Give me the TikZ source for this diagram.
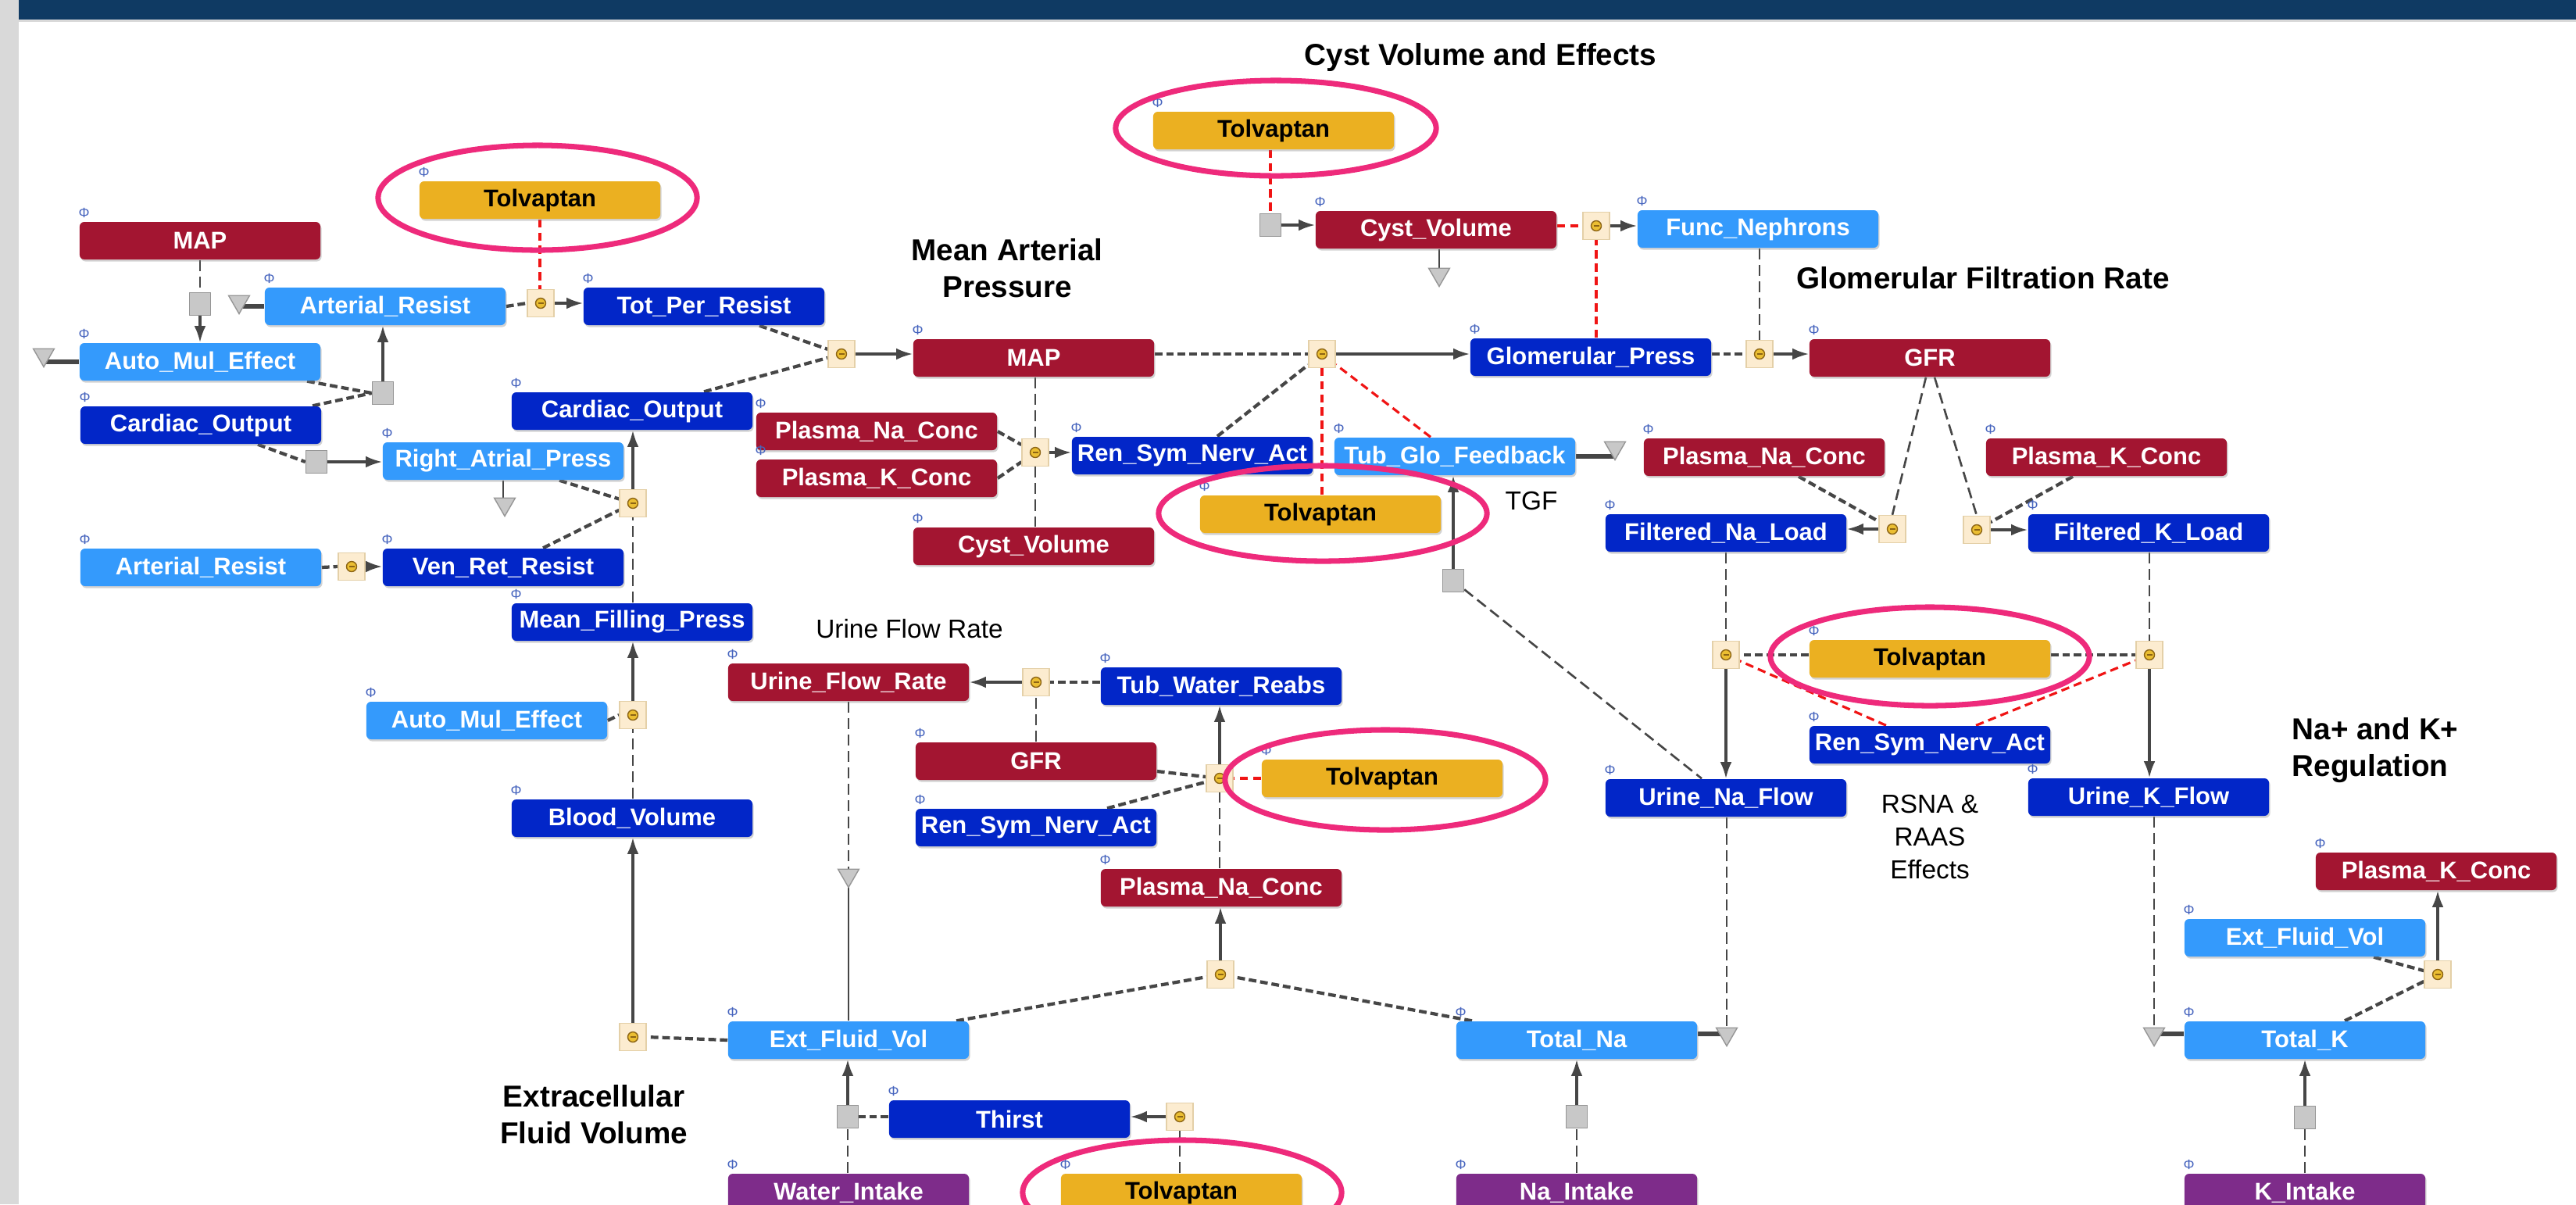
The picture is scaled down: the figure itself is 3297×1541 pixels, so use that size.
\documentclass[tikz,border=0pt]{standalone}
\usepackage{fontspec}
\setmainfont{Liberation Sans}
\usetikzlibrary{arrows.meta,shapes.geometric,shadows,calc}
\definecolor{cred}{RGB}{163,21,49}
\definecolor{clblue}{RGB}{52,154,252}
\definecolor{cdblue}{RGB}{2,38,200}
\definecolor{cgold}{RGB}{235,176,33}
\definecolor{cpurple}{RGB}{126,44,138}
\definecolor{cpink}{RGB}{238,42,123}
\definecolor{ctop}{RGB}{15,58,99}
\definecolor{cedge}{RGB}{70,70,70}
\definecolor{cmodfill}{RGB}{252,236,208}
\definecolor{cmoddraw}{RGB}{228,208,168}
\definecolor{cdot}{RGB}{235,190,50}
\definecolor{cdotd}{RGB}{140,100,20}
\definecolor{cicon}{RGB}{70,100,190}
\definecolor{cgray}{RGB}{200,200,200}
\definecolor{cgrayd}{RGB}{150,150,150}
\definecolor{cleft}{RGB}{217,217,217}
\definecolor{cdashred}{RGB}{240,20,20}
\pgfdeclarelayer{back}
\pgfdeclarelayer{edges}
\pgfsetlayers{back,edges,main}
\tikzset{
 box/.style={rectangle, rounded corners=0.06cm, minimum width=3.08cm, minimum height=0.48cm, inner sep=0pt, text=white, font=\fontsize{8.8}{10}\selectfont\bfseries, drop shadow={shadow xshift=0.015cm, shadow yshift=-0.025cm, opacity=0.35}},
 rd/.style={box, fill=cred},
 lb/.style={box, fill=clblue},
 db/.style={box, fill=cdblue},
 gd/.style={box, fill=cgold, text=black},
 pu/.style={box, fill=cpurple},
 icon/.style={text=cicon, font=\fontsize{5}{5}\selectfont, inner sep=0pt},
 modf/.style={rectangle, fill=cmodfill, draw=cmoddraw, line width=0.4pt, minimum width=0.34cm, minimum height=0.35cm, inner sep=0pt,
   path picture={\draw[fill=cdot, draw=cdotd, line width=0.4pt] (path picture bounding box.center) circle (0.065cm);
   \draw[cdotd, line width=0.4pt] ([xshift=-0.035cm]path picture bounding box.center) -- ([xshift=0.035cm]path picture bounding box.center);}},
 proc/.style={rectangle, fill=cgray, draw=cgrayd, line width=0.4pt, minimum width=0.27cm, minimum height=0.29cm, inner sep=0pt},
 sink/.style={regular polygon, regular polygon sides=3, shape border rotate=180, fill=cgray, draw=cgrayd, line width=0.4pt, minimum size=0.31cm, inner sep=0pt},
 arr/.style={draw=cedge, line width=0.9pt, -{Latex[length=6pt,width=4.2pt]}},
 infl/.style={draw=cedge, line width=1.2pt, dash pattern=on 2.8pt off 1.4pt},
 tdash/.style={draw=cedge, line width=0.75pt, dash pattern=on 4pt off 2pt},
 rdash/.style={draw=cdashred, line width=0.9pt, dash pattern=on 3pt off 1.8pt},
 flowk/.style={draw=cedge, line width=1.6pt},
 flown/.style={draw=cedge, line width=0.8pt},
 ring/.style={draw=cpink, line width=2pt},
 hdr/.style={font=\fontsize{11}{13.5}\selectfont\bfseries, align=center, inner sep=0pt},
 lbl/.style={font=\fontsize{9.5}{12}\selectfont, align=center, inner sep=0pt},
}
\newcommand{\mkbox}[5]{\node[#4] (#1) at (#2,#3) {#5};\node[icon] (#1i) at ([xshift=0.065cm,yshift=0.11cm]#1.north west) {Φ};}
\begin{document}
\begin{tikzpicture}[x={(0.01cm,0)}, y={(0,-0.01cm)}]
\useasboundingbox (0,0) rectangle (3297,1541);
\begin{pgfonlayer}{back}
\fill[white] (0,0) rectangle (3297,1541);
\fill[cleft] (0,0) rectangle (24,1541);
\fill[ctop] (24,0) rectangle (3297,25);
\fill[cleft] (24,25) rectangle (3297,28);
\end{pgfonlayer}
% boxes
\mkbox{mapL}{256}{308}{rd}{MAP}
\mkbox{arL}{493}{392}{lb}{Arterial\_Resist}
\mkbox{tpr}{901}{392}{db}{Tot\_Per\_Resist}
\mkbox{amL}{256}{463}{lb}{Auto\_Mul\_Effect}
\mkbox{coL}{257}{544}{db}{Cardiac\_Output}
\mkbox{coM}{809}{526}{db}{Cardiac\_Output}
\mkbox{rap}{644}{590}{lb}{Right\_Atrial\_Press}
\mkbox{arL2}{257}{726}{lb}{Arterial\_Resist}
\mkbox{vrr}{644}{726}{db}{Ven\_Ret\_Resist}
\mkbox{mfp}{809}{796}{db}{Mean\_Filling\_Press}
\mkbox{amL2}{623}{922}{lb}{Auto\_Mul\_Effect}
\mkbox{bv}{809}{1047}{db}{Blood\_Volume}
\mkbox{tol1}{691}{256}{gd}{Tolvaptan}
\mkbox{tol2}{1630}{167}{gd}{Tolvaptan}
\mkbox{cyst1}{1838}{294}{rd}{Cyst\_Volume}
\mkbox{fn}{2250}{293}{lb}{Func\_Nephrons}
\mkbox{mapM}{1323}{458}{rd}{MAP}
\mkbox{gp}{2036}{457}{db}{Glomerular\_Press}
\mkbox{gfr}{2470}{458}{rd}{GFR}
\mkbox{pnaM}{1122}{552}{rd}{Plasma\_Na\_Conc}
\mkbox{pkM}{1122}{612}{rd}{Plasma\_K\_Conc}
\mkbox{rsnaM}{1526}{583}{db}{Ren\_Sym\_Nerv\_Act}
\mkbox{tgf}{1862}{584}{lb}{Tub\_Glo\_Feedback}
\mkbox{cyst2}{1323}{699}{rd}{Cyst\_Volume}
\mkbox{tol3}{1690}{658}{gd}{Tolvaptan}
\mkbox{pnaR}{2258}{585}{rd}{Plasma\_Na\_Conc}
\mkbox{pkR}{2696}{585}{rd}{Plasma\_K\_Conc}
\mkbox{fna}{2209}{682}{db}{Filtered\_Na\_Load}
\mkbox{fk}{2750}{682}{db}{Filtered\_K\_Load}
\mkbox{tol6}{2470}{843}{gd}{Tolvaptan}
\mkbox{rsnaR}{2470}{953}{db}{Ren\_Sym\_Nerv\_Act}
\mkbox{una}{2209}{1021}{db}{Urine\_Na\_Flow}
\mkbox{uk}{2750}{1020}{db}{Urine\_K\_Flow}
\mkbox{ufr}{1086}{873}{rd}{Urine\_Flow\_Rate}
\mkbox{twr}{1563}{878}{db}{Tub\_Water\_Reabs}
\mkbox{gfr2}{1326}{974}{rd}{GFR}
\mkbox{tol4}{1769}{996}{gd}{Tolvaptan}
\mkbox{rsnaL}{1326}{1059}{db}{Ren\_Sym\_Nerv\_Act}
\mkbox{pnaL}{1563}{1136}{rd}{Plasma\_Na\_Conc}
\mkbox{efv}{1086}{1331}{lb}{Ext\_Fluid\_Vol}
\mkbox{tna}{2018}{1331}{lb}{Total\_Na}
\mkbox{thirst}{1292}{1432}{db}{Thirst}
\mkbox{wi}{1086}{1526}{pu}{Water\_Intake}
\mkbox{tol5}{1512}{1526}{gd}{Tolvaptan}
\mkbox{nai}{2018}{1526}{pu}{Na\_Intake}
\mkbox{pkR2}{3118}{1115}{rd}{Plasma\_K\_Conc}
\mkbox{efvR}{2950}{1200}{lb}{Ext\_Fluid\_Vol}
\mkbox{tk}{2950}{1331}{lb}{Total\_K}
\mkbox{ki}{2950}{1526}{pu}{K\_Intake}
% modifiers
\node[modf] (m1) at (692,388) {};
\node[modf] (m2) at (1077,453) {};
\node[modf] (m3) at (810,644) {};
\node[modf] (m4) at (450,725) {};
\node[modf] (m5) at (810,915) {};
\node[modf] (m6) at (810,1327) {};
\node[modf] (m7) at (1692,453) {};
\node[modf] (m8) at (1325,579) {};
\node[modf] (m9) at (2043,289) {};
\node[modf] (m10) at (2252,453) {};
\node[modf] (m11) at (2422,677) {};
\node[modf] (m12) at (2530,678) {};
\node[modf] (m13) at (2209,838) {};
\node[modf] (m14) at (2751,838) {};
\node[modf] (m15) at (1326,873) {};
\node[modf] (m16) at (1561,996) {};
\node[modf] (m17) at (1562,1247) {};
\node[modf] (m18) at (1510,1429) {};
\node[modf] (m19) at (3120,1247) {};
% process squares
\node[proc] (s1) at (256,389) {};
\node[proc] (s2) at (490,503) {};
\node[proc] (s3) at (405,591) {};
\node[proc] (s4) at (1626,288) {};
\node[proc] (s5) at (1860,743) {};
\node[proc] (s6) at (1085,1429) {};
\node[proc] (s7) at (2018,1429) {};
\node[proc] (s8) at (2950,1430) {};
% sinks
\node[sink] (t1) at (306,386) {};
\node[sink] (t2) at (56,454) {};
\node[sink] (t3) at (646,645) {};
\node[sink] (t4) at (1842,351) {};
\node[sink] (t5) at (2067,573) {};
\node[sink] (t6) at (1086,1120) {};
\node[sink] (t7) at (2210,1323) {};
\node[sink] (t8) at (2757,1323) {};
% labels
\node[hdr] (hcyst) at (1895,73) {Cyst Volume and Effects};
\node[hdr] (hmap) at (1289,343) {Mean Arterial\\Pressure};
\node[hdr] (hgfr) at (2538,356) {Glomerular Filtration Rate};
\node[hdr] (hecf) at (760,1426) {Extracellular\\Fluid Volume};
\node[hdr, align=left, anchor=west] (hnak) at (2933,960) {Na+ and K+\\Regulation};
\node[lbl] (ltgf) at (1960,641) {TGF};
\node[lbl] (lufr) at (1164,805) {Urine Flow Rate};
\node[lbl] (lrsna) at (2470,1071) {RSNA \&\\RAAS\\Effects};
% edges
\begin{pgfonlayer}{edges}
\draw[tdash] (mapL.south) -- (s1.north);
\draw[arr] (s1.south) -- (amL.north);
\draw[flowk] (arL.west) -- (arL.west -| t1.center);
\draw[flowk] (amL.west) -- (amL.west -| t2.center);
\draw[infl] ([xshift=1.37cm]amL.south) -- (s2.west);
\draw[infl] ([xshift=1.43cm]coL.north) -- (s2.west);
\draw[arr] (s2.north) -- (s2.north |- arL.south);
\draw[infl] (arL.east) -- (m1.west);
\draw[arr] (m1.east) -- (m1.east -| tpr.west);
\draw[rdash] (tol1.south) -- (tol1.south |- m1.north);
\draw[infl] ([xshift=0.71cm]tpr.south) -- (m2);
\draw[infl] ([xshift=0.92cm]coM.north) -- (m2);
\draw[arr] (m2.east) -- (m2.east -| mapM.west);
\draw[infl] ([xshift=0.73cm]coL.south) -- (s3.west);
\draw[arr] (s3.east) -- (s3.east -| rap.west);
\draw[flown] (rap.south) -- (rap.south |- t3.center);
\draw[infl] ([xshift=0.72cm]rap.south) -- (m3);
\draw[infl] ([xshift=0.51cm]vrr.north) -- (m3);
\draw[arr] (m3.north) -- (m3.north |- coM.south);
\draw[tdash] (mfp.north -| m3.south) -- (m3.south);
\draw[infl] (arL2.east) -- (m4.west);
\draw[arr] (m4.east) -- (m4.east -| vrr.west);
\draw[arr] (m5.north) -- (m5.north |- mfp.south);
\draw[infl] (amL2.east) -- (m5.west);
\draw[tdash] (bv.north -| m5.south) -- (m5.south);
\draw[arr] (m6.north) -- (m6.north |- bv.south);
\draw[infl] (efv.west) -- (m6.east);
\draw[infl] (mapM.east |- m7.west) -- (m7.west);
\draw[arr] (m7.east) -- (m7.east -| gp.west);
\draw[infl] ([xshift=0.32cm]rsnaM.north) -- (m7);
\draw[rdash] (tol3.north -| m7.south) -- (m7.south);
\draw[rdash] ([xshift=-0.31cm]tgf.north) -- (m7);
\draw[arr] (s5.north) -- (s5.north |- tgf.south);
\draw[tdash] (s5) -- ([xshift=-0.31cm]una.north);
\draw[flowk] (tgf.east) -- (tgf.east -| t5.center);
\draw[infl] (pnaM.east) -- (m8);
\draw[infl] (pkM.east) -- (m8);
\draw[arr] (m8.east) -- (m8.east -| rsnaM.west);
\draw[tdash] (mapM.south -| m8.north) -- (m8.north);
\draw[tdash] (m8.south) -- (m8.south |- cyst2.north);
\draw[rdash] (tol2.south -| s4.north) -- (s4.north);
\draw[arr] (s4.east) -- (s4.east -| cyst1.west);
\draw[flown] (cyst1.south -| t4.center) -- (t4.center);
\draw[rdash] (cyst1.east |- m9.west) -- (m9.west);
\draw[arr] (m9.east) -- (m9.east -| fn.west);
\draw[rdash] (gp.north -| m9.south) -- (m9.south);
\draw[infl] (gp.east |- m10.west) -- (m10.west);
\draw[arr] (m10.east) -- (m10.east -| gfr.west);
\draw[tdash] (fn.south -| m10.north) -- (m10.north);
\draw[tdash] ([xshift=-0.05cm]gfr.south) -- (m11.north);
\draw[tdash] ([xshift=0.06cm]gfr.south) -- (m12.north);
\draw[infl] ([xshift=0.44cm]pnaR.south) -- (m11);
\draw[infl] ([xshift=-0.43cm]pkR.south) -- (m12);
\draw[arr] (m11.west) -- (m11.west -| fna.east);
\draw[arr] (m12.east) -- (m12.east -| fk.west);
\draw[tdash] (fna.south -| m13.north) -- (m13.north);
\draw[arr] (m13.south) -- (m13.south |- una.north);
\draw[tdash] (fk.south -| m14.north) -- (m14.north);
\draw[arr] (m14.south) -- (m14.south |- uk.north);
\draw[infl] (tol6.west |- m13.east) -- (m13.east);
\draw[infl] (tol6.east |- m14.west) -- (m14.west);
\draw[rdash] ([xshift=-0.56cm]rsnaR.north) -- (m13);
\draw[rdash] ([xshift=0.59cm]rsnaR.north) -- (m14);
\draw[tdash] (una.south -| t7.center) -- (t7.center);
\draw[flowk] (tna.east |- t7.center) -- (t7.center);
\draw[tdash] (uk.south -| t8.center) -- (t8.center);
\draw[flowk] (tk.west |- t8.center) -- (t8.center);
\draw[infl] ([xshift=0.88cm]efvR.south) -- (m19);
\draw[infl] ([xshift=0.51cm]tk.north) -- (m19);
\draw[arr] (m19.north) -- (m19.north |- pkR2.south);
\draw[tdash] (ki.north) -- (s8.south);
\draw[arr] (s8.north) -- (tk.south);
\draw[infl] (twr.west |- m15.east) -- (m15.east);
\draw[arr] (m15.west) -- (m15.west -| ufr.east);
\draw[tdash] (gfr2.north -| m15.south) -- (m15.south);
\draw[infl] ([yshift=-0.13cm]gfr2.east) -- (m16);
\draw[infl] ([xshift=0.91cm]rsnaL.north) -- (m16);
\draw[rdash] (tol4.west) -- (m16.east);
\draw[arr] (m16.north) -- (m16.north |- twr.south);
\draw[tdash] (pnaL.north -| m16.south) -- (m16.south);
\draw[arr] (m17.north) -- (m17.north |- pnaL.south);
\draw[infl] ([xshift=1.38cm]efv.north) -- (m17);
\draw[infl] ([xshift=-1.34cm]tna.north) -- (m17);
\draw[tdash] (ufr.south -| t6.center) -- (t6.center);
\draw[flown] (t6.center) -- (t6.center |- efv.north);
\draw[infl] (thirst.west |- s6.center) -- (s6.center);
\draw[arr] (s6.north) -- (s6.north |- efv.south);
\draw[tdash] (wi.north -| s6.south) -- (s6.south);
\draw[arr] (m18.west) -- (m18.west -| thirst.east);
\draw[tdash] (tol5.north -| m18.south) -- (m18.south);
\draw[tdash] (nai.north) -- (s7.south);
\draw[arr] (s7.north) -- (tna.south);
\end{pgfonlayer}
% highlight rings
\draw[ring] (688,253) ellipse [x radius=2.04cm, y radius=0.67cm];
\draw[ring] (1633,164) ellipse [x radius=2.05cm, y radius=0.61cm];
\draw[ring] (1693,657) ellipse [x radius=2.10cm, y radius=0.61cm];
\draw[ring] (1773,998) ellipse [x radius=2.05cm, y radius=0.64cm];
\draw[ring] (1513,1526) ellipse [x radius=2.04cm, y radius=0.67cm];
\draw[ring] (2470,840) ellipse [x radius=2.04cm, y radius=0.63cm];
\end{tikzpicture}
\end{document}
